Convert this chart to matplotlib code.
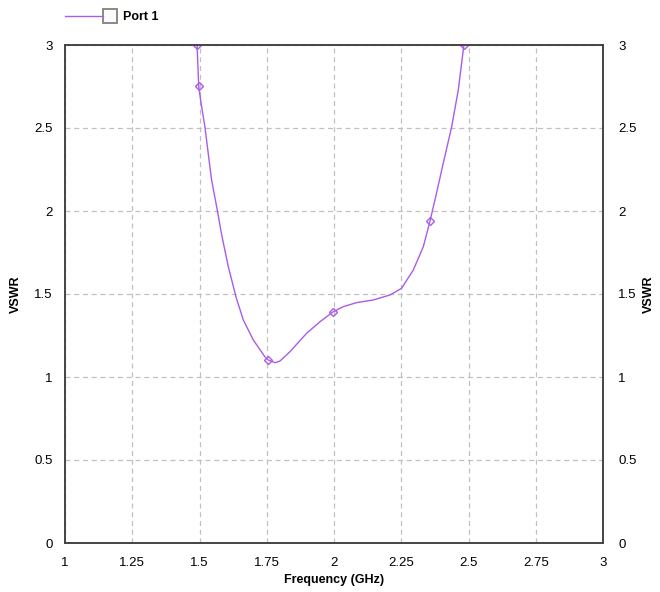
import numpy as np
import matplotlib
matplotlib.use('Agg')
import matplotlib.pyplot as plt
from matplotlib.lines import Line2D
from matplotlib.patches import Rectangle

plt.rcParams['font.family'] = ['Liberation Sans', 'DejaVu Sans']

# VSWR curve
freq = [1.491, 1.497, 1.504, 1.520, 1.533, 1.545, 1.566, 1.582, 1.607, 1.636,
        1.663, 1.700, 1.743, 1.756, 1.781, 1.799, 1.836, 1.898, 1.948, 1.997,
        2.035, 2.084, 2.146, 2.208, 2.251, 2.295, 2.332, 2.357, 2.381, 2.406,
        2.437, 2.462, 2.483]
vswr = [3.0, 2.753, 2.669, 2.508, 2.34, 2.187, 2.006, 1.860, 1.665, 1.480,
        1.343, 1.223, 1.122, 1.102, 1.086, 1.096, 1.152, 1.263, 1.333, 1.393,
        1.424, 1.448, 1.464, 1.494, 1.534, 1.645, 1.785, 1.940, 2.107, 2.287,
        2.504, 2.729, 3.0]
marks = [0, 1, 13, 19, 27, 32]

xticks = [1, 1.25, 1.5, 1.75, 2, 2.25, 2.5, 2.75, 3]
xlabels = ['1', '1.25', '1.5', '1.75', '2', '2.25', '2.5', '2.75', '3']
yticks = [0, 0.5, 1, 1.5, 2, 2.5, 3]
ylabels = ['0', '0.5', '1', '1.5', '2', '2.5', '3']

col = '#a95ce8'

fig = plt.figure(figsize=(6.6, 5.92), dpi=100)
ax = fig.add_axes([65/660, 1-543/592, (603-65)/660, (543-45)/592])
ax.plot(freq, vswr, color=col, lw=1.0, marker='D', markersize=4,
        markerfacecolor='none', markeredgecolor=col, markevery=marks,
        clip_on=True)
ax.set_xlim(1, 3)
ax.set_ylim(0, 3)
ax.set_xticks(xticks)
ax.set_xticklabels(xlabels)
ax.set_yticks(yticks)
ax.set_yticklabels(ylabels)
ax.grid(True, color='#c0c0c0', ls=(0, (4, 3)), lw=0.9)
ax.tick_params(length=0, labelsize=9.5, pad=10)
ax.tick_params(axis='y', pad=9)
for s in ax.spines.values():
    s.set_color('#444444')
    s.set_linewidth(1.2)
ax.set_xlabel('Frequency (GHz)', fontsize=9, fontweight='bold', labelpad=4)
ax.set_ylabel('VSWR', fontsize=9, fontweight='bold')
ax.yaxis.set_label_coords(-0.080, 0.5)

ax2 = ax.twinx()
ax2.set_ylim(0, 3)
ax2.set_yticks(yticks)
ax2.set_yticklabels(ylabels)
ax2.tick_params(length=0, labelsize=9.5, pad=11)
ax2.set_ylabel('VSWR', fontsize=9, fontweight='bold', rotation=90)
ax2.yaxis.set_label_coords(1.075, 0.5)
for s in ax2.spines.values():
    s.set_color('#444444')
    s.set_linewidth(1.2)

# legend: line + checkbox + label
fig.add_artist(Line2D([65/660, 103/660], [1-16/592, 1-16/592], color=col, lw=1.0,
                      transform=fig.transFigure))
fig.add_artist(Rectangle((103/660, 1-23/592), 14/660, 14/592, transform=fig.transFigure,
                         facecolor='#fbfbfb', edgecolor='#8a8a80', lw=1.4))
fig.text(123/660, 1-17/592, 'Port 1', fontsize=9, fontweight='bold', va='center')

fig.savefig('out.png', dpi=100)
